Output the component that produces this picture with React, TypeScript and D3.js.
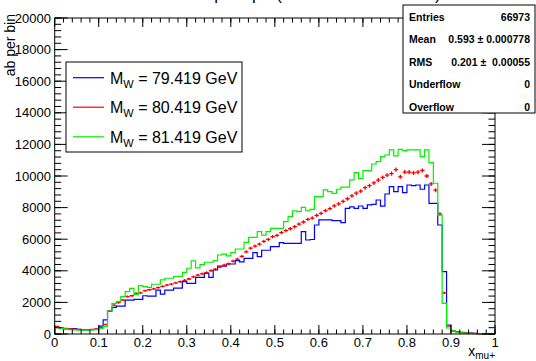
import React from "react";
import * as d3 from "d3";

const W = 536;
const H = 361;

const binEdges = d3.range(0, 101).map((i) => i / 100);

const blueVals = [
  420, 380, 330, 320, 340, 290, 280, 270, 280, 300,
  500, 890, 1450, 1690, 1770, 1770, 2150, 2150, 2190, 2190,
  2420, 2400, 2400, 2780, 2530, 2780, 2780, 2900, 2900, 3320,
  3210, 3210, 3590, 3590, 3840, 3590, 4050, 4300, 4300, 4430,
  4430, 4640, 4560, 4790, 4790, 5150, 4900, 5300, 5300, 5530,
  5530, 5780, 5740, 5740, 5740, 5740, 6480, 5950, 5980, 6900,
  7220, 7220, 7220, 7180, 7180, 7050, 7950, 8050, 7950, 8100,
  7950, 8170, 8200, 8480, 8090, 8860, 9330, 9010, 9330, 8950,
  9430, 9390, 9430, 9160, 9430, 8270, 8270, 6900, 3950, 570,
  200, 150, 100, 80, 60, 40, 30, 20, 15, 10,
];

const redVals = [
  480, 400, 360, 330, 300, 290, 280, 280, 290, 320,
  400, 600, 1450, 1830, 1980, 2150, 2370, 2420, 2570, 2600,
  2740, 2800, 2860, 2940, 3010, 3090, 3160, 3240, 3310, 3400,
  3480, 3620, 3730, 3810, 3890, 4010, 4100, 4240, 4360, 4440,
  4610, 4740, 4910, 5200, 5430, 5560, 5690, 5860, 5990, 6160,
  6240, 6410, 6540, 6660, 6790, 6960, 7090, 7260, 7340, 7510,
  7640, 7810, 7940, 8110, 8240, 8400, 8560, 8740, 8910, 9040,
  9260, 9390, 9560, 9740, 9910, 10050, 10150, 10400, 9950, 10250,
  10250, 10200, 10250, 10350, 10000, 9500, 9100, 7600, 2600, 500,
  200, 130, 90, 70, 50, 35, 25, 15, 10, 5,
];

const greenVals = [
  400, 350, 320, 270, 260, 250, 250, 250, 260, 280,
  350, 480, 1456, 1940, 2050, 2360, 2680, 2890, 2510, 3060,
  3000, 2955, 3150, 3150, 3420, 3530, 3530, 3640, 3640, 3900,
  4160, 4625, 4180, 4390, 4540, 4540, 4650, 5000, 5050, 4940,
  5150, 5380, 5380, 5800, 6120, 6120, 6480, 6260, 6480, 6690,
  6690, 6690, 7110, 7430, 7800, 7750, 8020, 7800, 7890, 8690,
  8690, 9120, 9010, 8900, 9160, 9290, 9290, 9750, 10210, 9850,
  10340, 10340, 10760, 10910, 11220, 11330, 11650, 11270, 11690, 11610,
  11650, 11650, 11650, 11220, 11650, 10850, 9540, 7530, 1940, 380,
  200, 120, 80, 60, 40, 30, 20, 10, 5, 0,
];

const legendLabels = ["79.419 GeV", "80.419 GeV", "81.419 GeV"];
const seriesColors = ["#0000ff", "#ff0000", "#00f000"];

const xTicksMajor = d3.range(0, 11).map((i) => i / 10);
const xTicksMinor = d3.range(0, 51).map((i) => i / 50);
const yTicksMajor = d3.range(0, 11).map((i) => i * 2000);
const yTicksMinor = d3.range(0, 51).map((i) => i * 400);
const xTickLabels = ["0", "0.1", "0.2", "0.3", "0.4", "0.5", "0.6", "0.7", "0.8", "0.9", "1"];

const statsRows: [string, string][] = [
  ["Entries", "66973"],
  ["Mean", "0.593 \u00b1 0.000778"],
  ["RMS", "0.201 \u00b1  0.00055"],
  ["Underflow", "0"],
  ["Overflow", "0"],
];

const FONT = "'Liberation Sans', Arial, Helvetica, sans-serif";

export default function App() {
  const L = 54.7, R = 495, T = 18, B = 334;
  const x = d3.scaleLinear().domain([0, 1]).range([L, R]);
  const y = d3.scaleLinear().domain([0, 20000]).range([B, T]);

  const stepPath = (vals: number[]) => {
    const pts: [number, number][] = [[x(0), y(0)]];
    vals.forEach((v, i) => {
      pts.push([x(binEdges[i]), y(v)]);
      pts.push([x(binEdges[i + 1]), y(v)]);
    });
    pts.push([x(1), y(0)]);
    return d3.line()(pts) || "";
  };

  const errPath = (vals: number[]) => {
    let p = "";
    vals.forEach((v, i) => {
      const x0 = x(binEdges[i]);
      const x1 = x(binEdges[i + 1]);
      const xc = (x0 + x1) / 2;
      const e = 1.3 * Math.sqrt(v);
      p += `M${x0},${y(v)}H${x1}`;
      if (v > 0) p += `M${xc},${y(v + e)}V${y(Math.max(0, v - e))}`;
    });
    return p;
  };

  const legX = 66, legY = 62, legW = 176, legH = 90;
  const legRows = [77.7, 107.2, 136.8];

  const sx = 403, sy = 5, sw = 132, sh = 108;
  const statY = [20.5, 43, 65.5, 88, 110.5];

  return (
    <svg
      width={W}
      height={H}
      viewBox={`0 0 ${W} ${H}`}
      style={{ position: "absolute", left: 0, top: 0, background: "#fff" }}
      fontFamily={FONT}
    >
      <rect x={0} y={0} width={W} height={H} fill="#fff" />
      {/* title, mostly outside the canvas */}
      <text x={318} y={0} fontSize={17} textAnchor="middle" fill="#000">
        Lepton pT (MW mass variations)
      </text>

      {/* histograms */}
      <path d={stepPath(blueVals)} fill="none" stroke={seriesColors[0]} strokeWidth={1.2} />
      <path d={errPath(redVals)} fill="none" stroke={seriesColors[1]} strokeWidth={1.3} />
      <path d={stepPath(greenVals)} fill="none" stroke={seriesColors[2]} strokeWidth={1.2} />

      {/* frame */}
      <rect x={L} y={T} width={R - L} height={B - T} fill="none" stroke="#000" strokeWidth={1} />

      {/* x ticks */}
      {xTicksMinor.map((t, i) => (
        <g key={"xm" + i} stroke="#000" strokeWidth={1}>
          <line x1={x(t)} x2={x(t)} y1={B} y2={B - 4.5} />
          <line x1={x(t)} x2={x(t)} y1={T} y2={T + 4.5} />
        </g>
      ))}
      {xTicksMajor.map((t, i) => (
        <g key={"xM" + i} stroke="#000" strokeWidth={1}>
          <line x1={x(t)} x2={x(t)} y1={B} y2={B - 9} />
          <line x1={x(t)} x2={x(t)} y1={T} y2={T + 9} />
        </g>
      ))}
      {xTicksMajor.map((t, i) => (
        <text key={"xl" + i} x={x(t)} y={347} fontSize={13} textAnchor="middle" fill="#000">
          {xTickLabels[i]}
        </text>
      ))}

      {/* y ticks */}
      {yTicksMinor.map((t, i) => (
        <g key={"ym" + i} stroke="#000" strokeWidth={1}>
          <line x1={L} x2={L + 6.5} y1={y(t)} y2={y(t)} />
          <line x1={R} x2={R - 6.5} y1={y(t)} y2={y(t)} />
        </g>
      ))}
      {yTicksMajor.map((t, i) => (
        <g key={"yM" + i} stroke="#000" strokeWidth={1}>
          <line x1={L} x2={L + 13} y1={y(t)} y2={y(t)} />
          <line x1={R} x2={R - 13} y1={y(t)} y2={y(t)} />
        </g>
      ))}
      {yTicksMajor.map((t, i) => (
        <text key={"yl" + i} x={51} y={y(t) + 4.6} fontSize={13} textAnchor="end" fill="#000">
          {String(t)}
        </text>
      ))}

      {/* axis titles */}
      <text
        transform="translate(15,14) rotate(-90)"
        fontSize={14}
        textAnchor="end"
        fill="#000"
      >
        ab per bin
      </text>
      <text x={495} y={356} fontSize={14} textAnchor="end" fill="#000">
        x<tspan fontSize={10} dy={3}>mu+</tspan>
      </text>

      {/* legend */}
      <rect x={legX} y={legY} width={legW} height={legH} fill="#fff" stroke="#000" strokeWidth={1} />
      {legendLabels.map((lab, i) => (
        <g key={"lg" + i}>
          <line x1={73} x2={104} y1={legRows[i]} y2={legRows[i]} stroke={seriesColors[i]} strokeWidth={1.2} />
          <text x={110} y={legRows[i] + 5.8} fontSize={16} fill="#000">
            M<tspan fontSize={11} dy={4}>W</tspan>
            <tspan dy={-4}>{" = " + lab}</tspan>
          </text>
        </g>
      ))}

      {/* stats box */}
      <rect x={sx} y={sy} width={sw} height={sh} fill="#fff" stroke="#000" strokeWidth={1} />
      {statsRows.map(([k, v], i) => (
        <g key={"st" + i} fontSize={10.5} fontWeight="bold" fill="#000">
          <text x={409} y={statY[i]}>{k}</text>
          <text x={530} y={statY[i]} textAnchor="end" style={{ whiteSpace: "pre" }}>
            {v}
          </text>
        </g>
      ))}
    </svg>
  );
}
